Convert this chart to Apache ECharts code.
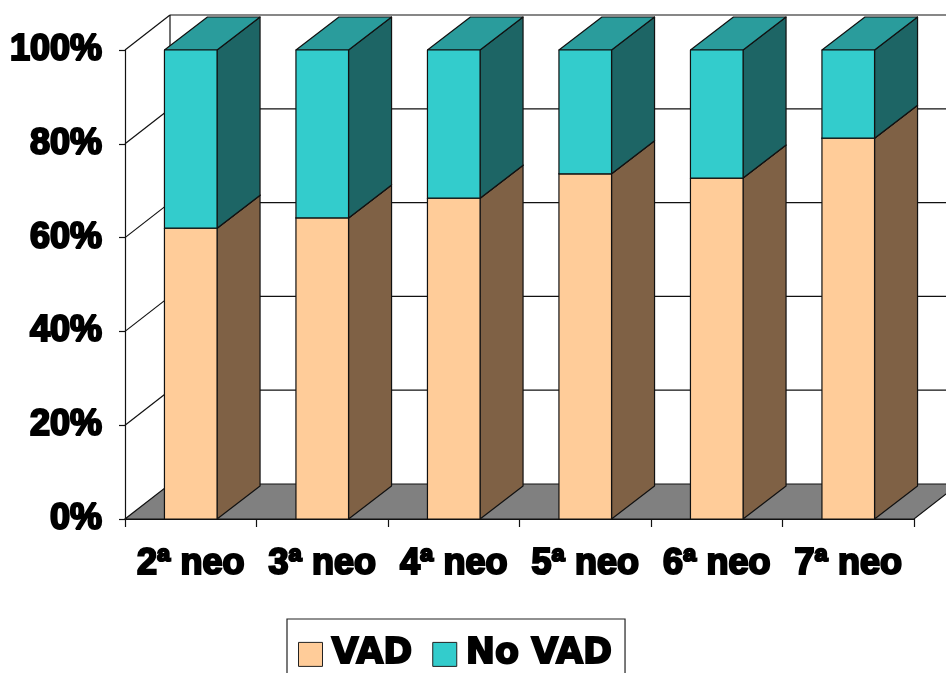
<!DOCTYPE html>
<html>
<head>
<meta charset="utf-8">
<script src="https://cdn.jsdelivr.net/npm/echarts@6/dist/echarts.min.js"></script>
<style>
  html, body { margin: 0; padding: 0; background: #fff; }
  #chart { width: 946px; height: 673px; }
</style>
</head>
<body>
<div id="chart"></div>
<script>
// Share of VAD vs No VAD per neoadjuvant line (100% stacked, 3D columns)
const categories = ['2ª neo', '3ª neo', '4ª neo', '5ª neo', '6ª neo', '7ª neo'];
const vadPct = [62.0, 64.2, 68.4, 73.6, 72.7, 81.2];
const noVadPct = [38.0, 35.8, 31.6, 26.4, 27.3, 18.8];
const yTicks = [0, 20, 40, 60, 80, 100];
const seriesNames = ['VAD', 'No VAD'];

// depth offsets of the 3D walls and columns (pixels)
const WALL_DX = 45, WALL_DY = -35;
const BAR_DX = 43, BAR_DY = -33;

const palette = {
  vad: { front: '#FFCC99', side: '#7F6145', top: '#E0B386' },
  noVad: { front: '#33CCCC', side: '#1D6565', top: '#2A9C9C' },
  floor: '#808080',
  line: '#111111'
};

const FONT = '"Liberation Sans", Arial, sans-serif';
const WIDE_FONT = '"DejaVu Sans", "Liberation Sans", sans-serif';
const heavyText = {
  fontFamily: FONT, fontWeight: 'bold', color: '#000',
  textBorderColor: '#000', textBorderWidth: 2.2
};

const vadData = categories.map((c, i) => [i, 0, vadPct[i]]);
const noVadData = categories.map((c, i) => [i, vadPct[i], vadPct[i] + noVadPct[i]]);
const wallData = yTicks.map(v => [v]);

function barRenderer(colors) {
  return function (params, api) {
    const i = api.value(0);
    const p0 = api.coord([i, api.value(1)]);
    const p1 = api.coord([i, api.value(2)]);
    const bw = api.size([1, 0])[0] * 0.40;
    const xl = p0[0] - bw / 2, xr = p0[0] + bw / 2;
    const yb = p0[1], yt = p1[1];
    const stroke = { stroke: palette.line, lineWidth: 1.2, lineJoin: 'round' };
    return {
      type: 'group',
      children: [
        {
          type: 'polygon',
          shape: { points: [[xr, yt], [xr + BAR_DX, yt + BAR_DY], [xr + BAR_DX, yb + BAR_DY], [xr, yb]] },
          style: Object.assign({ fill: colors.side }, stroke)
        },
        {
          type: 'polygon',
          shape: { points: [[xl, yt], [xr, yt], [xr + BAR_DX, yt + BAR_DY], [xl + BAR_DX, yt + BAR_DY]] },
          style: Object.assign({ fill: colors.top }, stroke)
        },
        {
          type: 'rect',
          shape: { x: xl, y: yt, width: bw, height: yb - yt },
          style: Object.assign({ fill: colors.front }, stroke)
        }
      ]
    };
  };
}

function wallRenderer(params, api) {
  const cs = params.coordSys;
  const x0 = cs.x, x1 = cs.x + cs.width;
  const v = api.value(0);
  const y = api.coord([0, v])[1];
  const yFloor = api.coord([0, 0])[1];
  const lineStyle = { stroke: palette.line, lineWidth: 1.2 };
  const children = [];
  if (v === 0) {
    children.push({
      type: 'polygon',
      shape: { points: [[x0, yFloor], [x1, yFloor], [x1 + WALL_DX, yFloor + WALL_DY], [x0 + WALL_DX, yFloor + WALL_DY]] },
      style: { fill: palette.floor, stroke: palette.line, lineWidth: 1.2 }
    });
  } else {
    children.push({
      type: 'line',
      shape: { x1: x0, y1: y, x2: x0 + WALL_DX, y2: y + WALL_DY },
      style: lineStyle
    });
    children.push({
      type: 'line',
      shape: { x1: x0 + WALL_DX, y1: y + WALL_DY, x2: x1 + WALL_DX + 40, y2: y + WALL_DY },
      style: lineStyle
    });
  }
  if (v === 100) {
    children.push({
      type: 'line',
      shape: { x1: x0 + WALL_DX, y1: y + WALL_DY, x2: x0 + WALL_DX, y2: yFloor + WALL_DY },
      style: lineStyle
    });
  }
  return { type: 'group', children: children };
}

const chart = echarts.init(document.getElementById('chart'), null, { renderer: 'canvas' });

chart.setOption({
  backgroundColor: '#ffffff',
  animation: false,
  grid: { left: 125, right: 32, top: 50, bottom: 154, containLabel: false },
  legend: {
    data: seriesNames,
    left: 287,
    top: 619,
    orient: 'horizontal',
    icon: 'rect',
    itemWidth: 24,
    itemHeight: 24,
    itemGap: 19,
    padding: [17, 12, 30, 11],
    borderColor: '#222',
    borderWidth: 1.2,
    itemStyle: { borderColor: '#222', borderWidth: 1 },
    textStyle: Object.assign({}, heavyText, {
      fontFamily: WIDE_FONT, fontSize: 35, textBorderWidth: 1.8, padding: [0, 0, 0, 4]
    })
  },
  xAxis: {
    type: 'category',
    data: categories,
    boundaryGap: true,
    axisLine: { show: true, lineStyle: { color: palette.line, width: 1.2 } },
    axisTick: { show: true, length: 8, alignWithLabel: false, lineStyle: { color: palette.line, width: 1.2 } },
    axisLabel: Object.assign({ margin: 27, fontSize: 36, interval: 0 }, heavyText),
    splitLine: { show: false }
  },
  yAxis: {
    type: 'value',
    min: 0,
    max: 100,
    interval: 20,
    axisLine: { show: true, lineStyle: { color: palette.line, width: 1.2 } },
    axisTick: { show: true, length: 6, lineStyle: { color: palette.line, width: 1.2 } },
    axisLabel: Object.assign({ formatter: '{value}%', margin: 23, fontSize: 36 }, heavyText),
    splitLine: { show: false }
  },
  series: [
    {
      name: 'walls',
      type: 'custom',
      silent: true,
      z: 1,
      clip: false,
      renderItem: wallRenderer,
      encode: { y: 0 },
      data: wallData
    },
    {
      name: seriesNames[0],
      type: 'custom',
      z: 3,
      clip: false,
      itemStyle: { color: palette.vad.front },
      renderItem: barRenderer(palette.vad),
      encode: { x: 0, y: [1, 2] },
      data: vadData
    },
    {
      name: seriesNames[1],
      type: 'custom',
      z: 3,
      clip: false,
      itemStyle: { color: palette.noVad.front },
      renderItem: barRenderer(palette.noVad),
      encode: { x: 0, y: [1, 2] },
      data: noVadData
    }
  ]
});
</script>
</body>
</html>
